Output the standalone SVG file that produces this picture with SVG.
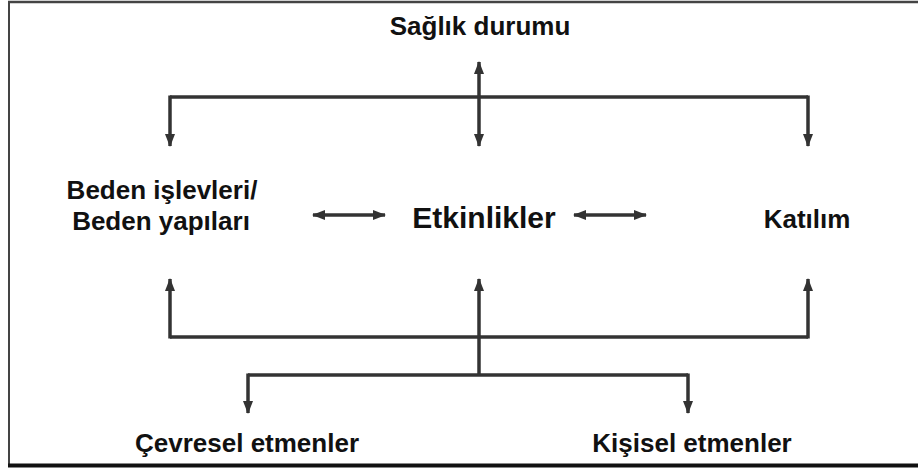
<svg xmlns="http://www.w3.org/2000/svg" width="918" height="470" viewBox="0 0 918 470">
<style>
.t{font-family:"Liberation Sans",Arial,sans-serif;font-weight:bold;fill:#111;text-anchor:middle}
.c{stroke:#333;stroke-width:3.5;fill:none}
.a{marker-end:url(#ah)}
.b{marker-start:url(#ahs);marker-end:url(#ah)}
</style>
<defs>
<marker id="ah" markerUnits="userSpaceOnUse" markerWidth="13" markerHeight="13" viewBox="0 0 13 13" refX="12" refY="6.5" orient="auto">
<path d="M0,1.5 L13,6.5 L0,11.5 z" fill="#333"/>
</marker>
<marker id="ahs" markerUnits="userSpaceOnUse" markerWidth="13" markerHeight="13" viewBox="0 0 13 13" refX="1" refY="6.5" orient="auto">
<path d="M13,1.5 L0,6.5 L13,11.5 z" fill="#333"/>
</marker>
</defs>
<rect width="918" height="470" fill="#fff"/>
<g id="frame">
<line x1="8" y1="2" x2="918" y2="2" stroke="#444" stroke-width="2.5"/>
<line x1="9" y1="1" x2="9" y2="466" stroke="#444" stroke-width="2"/>
<line x1="8" y1="465.5" x2="918" y2="465.5" stroke="#111" stroke-width="4"/>
</g>
<g id="connectors">
<path class="c" d="M170,97 H808"/>
<path class="c b" d="M479,62 V146"/>
<path class="c a" d="M170,95.5 V146"/>
<path class="c a" d="M808,95.5 V146"/>
<path class="c b" d="M313,215 H385"/>
<path class="c b" d="M574,215 H646"/>
<path class="c a" d="M170,338.5 V279"/>
<path class="c a" d="M479,376 V279"/>
<path class="c a" d="M808,338.5 V279"/>
<path class="c" d="M170,337 H808"/>
<path class="c" d="M248,375 H688"/>
<path class="c a" d="M248,373.5 V413"/>
<path class="c a" d="M688,373.5 V413"/>
</g>
<g id="saglik"><text class="t" x="480" y="35" font-size="26">Sağlık durumu</text></g>
<g id="beden"><text class="t" x="162" y="199" font-size="26">Beden işlevleri/</text><text class="t" x="161" y="230" font-size="26">Beden yapıları</text></g>
<g id="etkinlikler"><text class="t" x="484" y="228" font-size="30">Etkinlikler</text></g>
<g id="katilim"><text class="t" x="807" y="228" font-size="26">Katılım</text></g>
<g id="cevresel"><text class="t" x="247" y="452" font-size="26">Çevresel etmenler</text></g>
<g id="kisisel"><text class="t" x="692" y="452" font-size="26">Kişisel etmenler</text></g>
</svg>
